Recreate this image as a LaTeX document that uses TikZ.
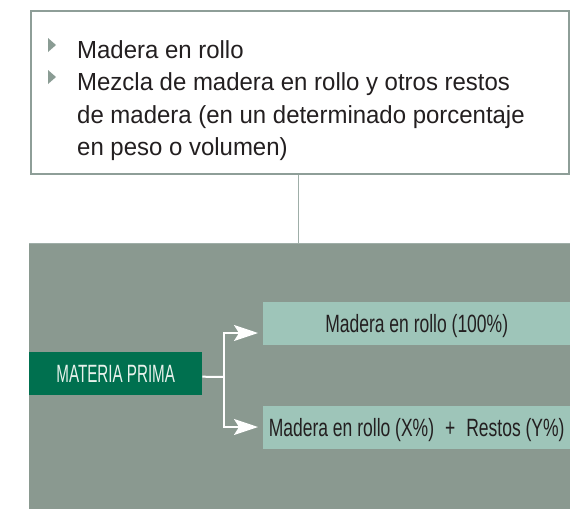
\documentclass[tikz,border=0pt]{standalone}
\usepackage{fontspec}
\setmainfont{Liberation Sans}
\newfontfamily\topfont[FakeStretch=0.97]{Liberation Sans}
\newfontfamily\condfont[FakeStretch=0.70]{Liberation Sans}
\newfontfamily\capsfont[FakeStretch=0.607]{Liberation Sans}
\usetikzlibrary{arrows.meta}
\definecolor{panelgray}{HTML}{8A9990}
\definecolor{boxborder}{HTML}{8E9E98}
\definecolor{linkgray}{HTML}{9FAEA8}
\definecolor{darkgreen}{HTML}{00704F}
\definecolor{lightgreen}{HTML}{9EC5B9}
\definecolor{inktext}{HTML}{231F20}
\definecolor{bulletgray}{HTML}{8A9C94}
\definecolor{paletext}{HTML}{E8F2EC}
\begin{document}
\begin{tikzpicture}[x=1pt,y=-1pt,
  topline/.style={anchor=base west,inner sep=0pt,text=inktext,font=\topfont\fontsize{24.7}{30}\selectfont},
  bulletmark/.style={fill=bulletgray,draw=none},
  optionbox/.style={fill=lightgreen,draw=none,minimum width=307pt,minimum height=43pt,inner sep=0pt,
    text height=18pt,text depth=0pt,text=inktext,font=\condfont\fontsize{25}{28}\selectfont},
  conn/.style={draw=white,line width=2pt},
  connarrow/.style={conn,-{Stealth[length=24pt,width=16pt,inset=5pt]}}]
\useasboundingbox (0,0) rectangle (573,509);
% top box
\node[draw=boxborder,line width=1.2pt,fill=white,minimum width=538pt,minimum height=163pt,inner sep=0pt] (top) at (300,92.5) {};
% panel
\node[fill=panelgray,draw=none,minimum width=541pt,minimum height=266pt,inner sep=0pt,anchor=north west] (panel) at (29,243) {};
\draw[linkgray,line width=1pt] (panel.north west) -- (panel.north east);
% link between top box and panel
\draw[linkgray,line width=1pt] ([xshift=-2pt]top.south) -- ([xshift=-2pt]top.south |- panel.north);
% text lines
\node[topline] (l1) at (77,58) {Madera en rollo};
\node[topline] (l2) at (77,90.5) {Mezcla de madera en rollo y otros restos};
\node[topline] (l3) at (77,123) {de madera (en un determinado porcentaje};
\node[topline] (l4) at (77,155.5) {en peso o volumen)};
\fill[bulletmark] (48,38) -- (48,52) -- (56,45) -- cycle;
\fill[bulletmark] (48,70) -- (48,84) -- (56,77) -- cycle;
% diagram
\node[fill=darkgreen,draw=none,minimum width=173pt,minimum height=43pt,inner sep=0pt,
  text height=18pt,text depth=0pt,text=paletext,font=\capsfont\fontsize{25}{28}\selectfont,anchor=north west] (mp) at (29,352) {MATERIA PRIMA};
\node[optionbox,anchor=north west] (o1) at (263,302) {Madera en rollo (100\%)};
\node[optionbox,anchor=north west] (o2) at (263,406) {Madera en rollo (X\%)\hspace{11pt}+\hspace{11pt}Restos (Y\%)};
\coordinate (start) at ([yshift=-3pt]mp.east);
\coordinate (split) at (224,377);
\coordinate (t1) at (258,333);
\coordinate (t2) at (258,427);
\draw[conn] (start) -- (split);
\draw[connarrow] (split) |- (t1);
\draw[connarrow] (split) |- (t2);
\end{tikzpicture}
\end{document}
